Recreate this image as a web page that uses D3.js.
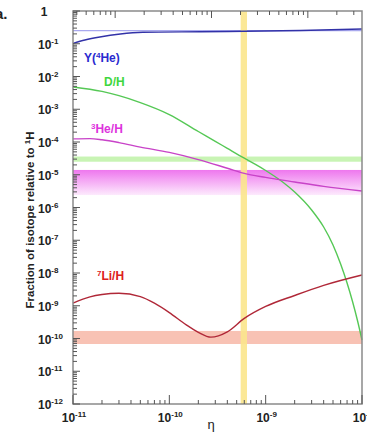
<!DOCTYPE html>
<html>
<head>
<meta charset="utf-8">
<script src="https://cdn.jsdelivr.net/npm/d3@7"></script>
<style>
  body { margin: 0; background: #fff; }
  svg { display: block; font-family: Arial, "Liberation Sans", Helvetica, sans-serif; }
</style>
</head>
<body>
<div id="chart"></div>
<script>
// --- data (eta = baryon-to-photon ratio) ---
const etaHe = [1e-11, 1.33e-11, 1.9e-11, 3.1e-11, 5.3e-11, 2.1e-10, 6e-10, 2.3e-9, 1e-8];
const yHe   = [0.103, 0.130, 0.161, 0.199, 0.224, 0.233, 0.240, 0.254, 0.282];

const etaD = [1e-11, 2e-11, 3e-11, 5e-11, 1e-10, 2e-10, 3e-10, 4e-10, 6e-10, 8e-10, 1e-9,
              1.5e-9, 2e-9, 3e-9, 4e-9, 5e-9, 6e-9, 7e-9, 8e-9, 9e-9, 1e-8];
const dH   = [4.8e-3, 3.5e-3, 2.6e-3, 1.6e-3, 6.9e-4, 2.09e-4, 1.05e-4, 6.4e-5, 3.2e-5, 2.0e-5, 1.35e-5,
              6.0e-6, 2.97e-6, 8.4e-7, 2.54e-7, 7.2e-8, 1.88e-8, 4.95e-9, 1.3e-9, 3.42e-10, 9e-11];

const etaHe3 = [1e-11, 1.5e-11, 2e-11, 3e-11, 5e-11, 1e-10, 2e-10, 4e-10, 6e-10, 1e-9, 2e-9, 4e-9, 1e-8];
const he3H   = [1.25e-4, 1.27e-4, 1.17e-4, 9.6e-5, 7.0e-5, 4.8e-5, 2.9e-5, 1.58e-5, 1.1e-5, 8.3e-6, 6.0e-6, 4.4e-6, 3.2e-6];

const etaLi = [1e-11, 1.5e-11, 2e-11, 3e-11, 5e-11, 7e-11, 1e-10, 1.5e-10, 2e-10, 2.7e-10,
               4e-10, 6e-10, 1e-9, 2e-9, 4e-9, 1e-8];
const li7H  = [1.2e-9, 1.86e-9, 2.2e-9, 2.4e-9, 1.9e-9, 1.2e-9, 6.2e-10, 2.6e-10, 1.55e-10, 1.1e-10,
               1.6e-10, 4.1e-10, 9.5e-10, 2.06e-9, 4.2e-9, 8.7e-9];

// observed ranges
const heObs = 0.25;
const dBand = [2.5e-5, 3.6e-5];
const he3Band = [2.4e-6, 1.4e-5];
const liBand = [6.8e-11, 1.7e-10];
const etaBand = [5.5e-10, 6.4e-10];

// tick labels
const xTickExp = [-11, -10, -9, -8];
const yTickExp = [0, -1, -2, -3, -4, -5, -6, -7, -8, -9, -10, -11, -12];

const width = 367, height = 434;
const plotL = 73, plotR = 362, plotT = 11, plotB = 404;

const svg = d3.select("#chart").append("svg")
    .attr("width", width)
    .attr("height", height);

const x = d3.scaleLog().domain([1e-11, 1e-8]).range([plotL, plotR]);
const y = d3.scaleLog().domain([1, 1e-12]).range([plotT, plotB]);
// top axis is Omega_b h^2 = eta / 2.74e-8
const xTop = d3.scaleLog().domain([1e-11 / 2.74e-8, 1e-8 / 2.74e-8]).range([plotL, plotR]);

const isDecade = d => Math.abs(Math.log10(d) - Math.round(Math.log10(d))) < 1e-9;

// magenta gradient for the 3He band
const grad = svg.append("defs").append("linearGradient")
    .attr("id", "he3grad").attr("x1", 0).attr("x2", 0).attr("y1", 0).attr("y2", 1);
grad.append("stop").attr("offset", "0%").attr("stop-color", "#ee77ee");
grad.append("stop").attr("offset", "100%").attr("stop-color", "#fdeafd");

// bands
function hBand(range, fill) {
    return svg.append("rect")
        .attr("x", plotL).attr("width", plotR - plotL)
        .attr("y", y(range[1])).attr("height", y(range[0]) - y(range[1]))
        .attr("fill", fill);
}
hBand(dBand, "#c8f4b4");
hBand(he3Band, "url(#he3grad)");
hBand(liBand, "#f8c2b4");

svg.append("line")
    .attr("x1", plotL).attr("x2", plotR)
    .attr("y1", y(heObs)).attr("y2", y(heObs))
    .attr("stroke", "#a9a9ee").attr("stroke-width", 1.2);

svg.append("rect")
    .attr("x", x(etaBand[0])).attr("width", x(etaBand[1]) - x(etaBand[0]))
    .attr("y", plotT).attr("height", plotB - plotT)
    .attr("fill", "#fbe68c").attr("opacity", 0.9);

// curves
const line = d3.line()
    .x(d => x(d[0]))
    .y(d => y(d[1]))
    .curve(d3.curveMonotoneX);

function curve(etas, vals, color) {
    svg.append("path")
        .datum(etas.map((e, i) => [e, vals[i]]))
        .attr("fill", "none")
        .attr("stroke", color)
        .attr("stroke-width", 1.4)
        .attr("d", line);
}
curve(etaHe, yHe, "#3232a8");
curve(etaD, dH, "#55c855");
curve(etaHe3, he3H, "#c843c8");
curve(etaLi, li7H, "#b02838");

// frame
svg.append("rect")
    .attr("x", plotL).attr("y", plotT)
    .attr("width", plotR - plotL).attr("height", plotB - plotT)
    .attr("fill", "none").attr("stroke", "#8a8a8a").attr("stroke-width", 1.5);

// ticks (all pointing inward)
const tickColor = "#555";
svg.append("g").selectAll("line")
    .data(x.ticks())
    .join("line")
    .attr("x1", d => x(d)).attr("x2", d => x(d))
    .attr("y1", plotB)
    .attr("y2", d => plotB - (isDecade(d) ? 9 : 4))
    .attr("stroke", tickColor).attr("stroke-width", 1);

svg.append("g").selectAll("line")
    .data(xTop.ticks())
    .join("line")
    .attr("x1", d => xTop(d)).attr("x2", d => xTop(d))
    .attr("y1", plotT)
    .attr("y2", d => plotT + (isDecade(d) ? 7 : 4))
    .attr("stroke", tickColor).attr("stroke-width", 1);

const yTicks = [];
d3.range(-12, 0).forEach(e => d3.range(1, 10).forEach(k => yTicks.push(k * Math.pow(10, e))));
yTicks.push(1);
svg.append("g").selectAll("line")
    .data(yTicks)
    .join("line")
    .attr("y1", d => y(d)).attr("y2", d => y(d))
    .attr("x1", plotL)
    .attr("x2", d => plotL + (isDecade(d) ? 7 : 4))
    .attr("stroke", tickColor).attr("stroke-width", 1);

// power-of-ten label helper
function powLabel(sel, exp) {
    if (exp === 0) { sel.text("1"); return; }
    sel.append("tspan").text("10");
    sel.append("tspan").attr("dy", -5).attr("font-size", "8px").text(exp);
}

svg.append("g").selectAll("text")
    .data(yTickExp)
    .join("text")
    .attr("x", d => d === 0 ? 44 : 38)
    .attr("y", d => y(Math.pow(10, d)) + 5)
    .attr("text-anchor", d => d === 0 ? "middle" : "start")
    .attr("font-size", "12px").attr("font-weight", "bold").attr("fill", "#222")
    .each(function(d) { powLabel(d3.select(this), d); });

svg.append("g").selectAll("text")
    .data(xTickExp)
    .join("text")
    .attr("x", d => x(Math.pow(10, d)) + 1)
    .attr("y", 422)
    .attr("text-anchor", "middle")
    .attr("font-size", "12px").attr("font-weight", "bold").attr("fill", "#222")
    .each(function(d) { powLabel(d3.select(this), d); });

// axis titles
svg.append("text")
    .attr("x", 211).attr("y", 429)
    .attr("text-anchor", "middle")
    .attr("font-size", "13px").attr("fill", "#222")
    .text("η");

const yt = svg.append("text")
    .attr("transform", "translate(34,220) rotate(-90)")
    .attr("text-anchor", "middle")
    .attr("font-size", "11.5px").attr("font-weight", "bold").attr("fill", "#222");
yt.append("tspan").text("Fraction of isotope relative to ");
yt.append("tspan").attr("dy", -4).attr("font-size", "8px").text("1");
yt.append("tspan").attr("dy", 4).text("H");

// panel letter (cut at the left edge)
svg.append("text")
    .attr("x", -5).attr("y", 19)
    .attr("font-size", "15px").attr("font-weight", "bold").attr("fill", "#222")
    .text("a.");

// curve labels
function isoLabel(px, py, pre, sup, post, color) {
    const t = svg.append("text")
        .attr("x", px).attr("y", py)
        .attr("font-size", "12px").attr("font-weight", "bold").attr("fill", color);
    if (pre) t.append("tspan").text(pre);
    t.append("tspan").attr("dy", -4).attr("font-size", "8px").text(sup);
    t.append("tspan").attr("dy", 4).text(post);
}
isoLabel(84, 62, "Y(", "4", "He)", "#2a2ad0");
svg.append("text")
    .attr("x", 104).attr("y", 86)
    .attr("font-size", "12px").attr("font-weight", "bold").attr("fill", "#3fd63f")
    .text("D/H");
isoLabel(91, 133, "", "3", "He/H", "#dd33dd");
isoLabel(97, 280, "", "7", "Li/H", "#dd2020");
</script>
</body>
</html>
